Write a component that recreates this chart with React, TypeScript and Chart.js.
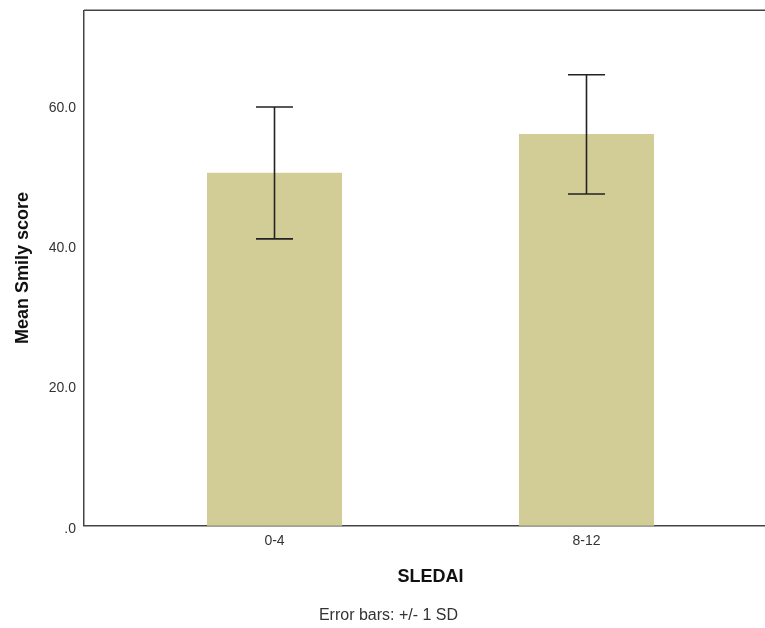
import React, { useEffect, useRef } from "react";
import { Chart, registerables } from "chart.js";

Chart.register(...registerables);

const categories = ["0-4", "8-12"];
const means = [50.3, 55.8];
const sds = [9.4, 8.5];
const yTickValues = [0, 20, 40, 60];
const yTickLabels = [".0", "20.0", "40.0", "60.0"];
const yMax = 73.5;
const xTitle = "SLEDAI";
const yTitle = "Mean Smily score";
const footnote = "Error bars: +/- 1 SD";

const FONT = "'Liberation Sans', Arial, Helvetica, sans-serif";
const AXIS_COLOR = "#444";
const BAR_COLOR = "#d2cd97";
const ERR_COLOR = "#222";

const errorBarsPlugin = {
  id: "errorBars",
  afterDatasetsDraw(chart: any) {
    const { ctx, scales } = chart;
    const xs = scales.x;
    const ys = scales.y;
    ctx.save();
    ctx.strokeStyle = ERR_COLOR;
    ctx.lineWidth = 1.6;
    const capHalf = 18.5;
    means.forEach((m, i) => {
      const x = xs.getPixelForValue(i);
      const yt = ys.getPixelForValue(m + sds[i]);
      const yb = ys.getPixelForValue(m - sds[i]);
      ctx.beginPath();
      ctx.moveTo(x, yt);
      ctx.lineTo(x, yb);
      ctx.moveTo(x - capHalf, yt);
      ctx.lineTo(x + capHalf, yt);
      ctx.moveTo(x - capHalf, yb);
      ctx.lineTo(x + capHalf, yb);
      ctx.stroke();
    });
    ctx.restore();
  },
};

const topLinePlugin = {
  id: "topLine",
  afterDraw(chart: any) {
    const { ctx, chartArea } = chart;
    ctx.save();
    ctx.strokeStyle = AXIS_COLOR;
    ctx.lineWidth = 1.5;
    ctx.beginPath();
    ctx.moveTo(chartArea.left, chartArea.top);
    ctx.lineTo(chartArea.right, chartArea.top);
    ctx.stroke();
    ctx.restore();
  },
};

export default function App() {
  const canvasRef = useRef<HTMLCanvasElement | null>(null);

  useEffect(() => {
    const canvas = canvasRef.current;
    if (!canvas) return;
    const margin = 0.6106;
    const chart = new Chart(canvas, {
      type: "bar",
      data: {
        datasets: [
          {
            data: categories.map((_, i) => ({ x: i, y: means[i] })),
            backgroundColor: BAR_COLOR,
            borderWidth: 0,
            barThickness: 134.4,
          } as any,
        ],
      },
      plugins: [errorBarsPlugin, topLinePlugin],
      options: {
        responsive: false,
        animation: false,
        devicePixelRatio: 1,
        layout: { padding: { top: 10.3, left: 0, right: 0, bottom: 0 } },
        plugins: {
          legend: { display: false },
          tooltip: { enabled: false },
          title: {
            display: true,
            position: "bottom",
            text: footnote,
            color: "#333",
            font: { family: FONT, size: 16, weight: "normal" },
            padding: { top: 0, bottom: 2.4 },
          },
        },
        scales: {
          x: {
            type: "linear",
            min: -margin,
            max: 1 + margin,
            offset: false,
            grid: { display: false, drawTicks: false },
            border: { display: true, color: AXIS_COLOR, width: 1.5 },
            afterBuildTicks: (scale: any) => {
              scale.ticks = categories.map((_, i) => ({ value: i }));
            },
            afterFit: (scale: any) => {
              scale.height = 80.7;
              scale.paddingLeft = 0;
              scale.paddingRight = 0;
            },
            ticks: {
              autoSkip: false,
              maxRotation: 0,
              padding: 6.9,
              color: "#333",
              font: { family: FONT, size: 14 },
              callback: (v: any) => categories[Math.round(Number(v))] ?? "",
            },
            title: {
              display: true,
              text: xTitle,
              color: "#111",
              font: { family: FONT, size: 18, weight: "bold" },
              padding: { top: 10, bottom: 18.6 },
            },
          },
          y: {
            min: 0,
            max: yMax,
            grid: { display: false, drawTicks: false },
            border: { display: true, color: AXIS_COLOR, width: 1.5 },
            afterBuildTicks: (scale: any) => {
              scale.ticks = yTickValues.map((v) => ({ value: v }));
            },
            afterFit: (scale: any) => {
              scale.width = 84;
              scale.paddingTop = 0;
              scale.paddingBottom = 0;
            },
            ticks: {
              padding: 8,
              labelOffset: 3,
              color: "#333",
              font: { family: FONT, size: 14 },
              callback: (_v: any, i: number) => yTickLabels[i],
            },
            title: {
              display: true,
              text: yTitle,
              color: "#111",
              font: { family: FONT, size: 18, weight: "bold" },
              padding: { top: 12.2, bottom: 4 },
            },
          },
        },
      } as any,
    });
    return () => chart.destroy();
  }, []);

  return (
    <div
      style={{
        position: "fixed",
        left: 0,
        top: 0,
        width: 765,
        height: 628,
        overflow: "hidden",
        background: "#fff",
      }}
    >
      <canvas
        ref={canvasRef}
        width={777}
        height={628}
        style={{ display: "block", width: 777, height: 628 }}
      />
    </div>
  );
}
